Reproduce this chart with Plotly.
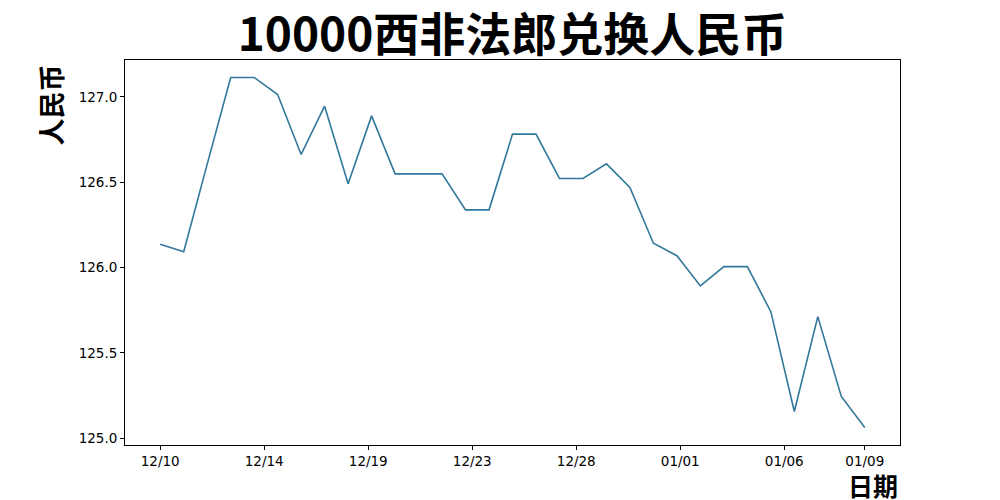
import plotly.graph_objects as go

dates = ["12/10", "12/11", "12/12", "12/13", "12/14", "12/15", "12/16", "12/17",
         "12/18", "12/19", "12/20", "12/21", "12/22", "12/23", "12/24", "12/25",
         "12/26", "12/27", "12/28", "12/29", "12/30", "12/31", "01/01", "01/02",
         "01/03", "01/04", "01/05", "01/06", "01/07", "01/08", "01/09"]
values = [126.136, 126.093, 126.606, 127.114, 127.114, 127.014, 126.663, 126.946,
          126.491, 126.889, 126.549, 126.549, 126.549, 126.338, 126.338, 126.782,
          126.782, 126.522, 126.522, 126.608, 126.470, 126.142, 126.069, 125.892,
          126.005, 126.005, 125.741, 125.156, 125.712, 125.244, 125.062]

n = len(dates)
x_idx = list(range(n))
# tick positions spread evenly, labels from nearest date
tick_pos = [i * n / 7 for i in range(7)] + [n - 1]
tick_txt = [dates[min(n - 1, round(p))] for p in tick_pos]

fig = go.Figure()
fig.add_trace(go.Scatter(x=x_idx, y=values, mode="lines",
                         line=dict(color="#31789a", width=1.6),
                         hoverinfo="skip", showlegend=False))

span_y = max(values) - min(values)
fig.update_layout(
    width=1000, height=500,
    margin=dict(l=125, r=100, t=60, b=55),
    paper_bgcolor="white", plot_bgcolor="white",
    font=dict(family="DejaVu Sans", size=13, color="black"),
    title=dict(text="<b>10000西非法郎兑换人民币</b>", x=0.5, xref="paper",
               y=1 - 35 / 500, yanchor="middle", xanchor="center",
               font=dict(family="Noto Sans CJK SC", size=46, color="black")),
    xaxis=dict(range=[-1.5, n - 1 + 1.5], tickvals=tick_pos, ticktext=tick_txt,
               showgrid=False, zeroline=False, showline=True, linecolor="black",
               linewidth=1, mirror=True, ticks="outside", ticklen=4,
               tickcolor="black", tickfont=dict(size=13.5), automargin=False),
    yaxis=dict(range=[min(values) - 0.05 * span_y, max(values) + 0.05 * span_y],
               tickvals=[125.0, 125.5, 126.0, 126.5, 127.0],
               ticktext=["125.0", "125.5", "126.0", "126.5", "127.0"],
               showgrid=False, zeroline=False, showline=True, linecolor="black",
               linewidth=1, mirror=True, ticks="outside", ticklen=4,
               tickcolor="black", tickfont=dict(size=13.5), automargin=False),
    annotations=[
        dict(text="<b>人民币</b>", xref="paper", yref="paper",
             x=(50 - 125) / 775, y=1 - 3 / 385, xanchor="center", yanchor="top",
             textangle=-90, showarrow=False,
             font=dict(family="Noto Sans CJK SC", size=27, color="black")),
        dict(text="<b>日期</b>", xref="paper", yref="paper",
             x=1, y=(445 - 485) / 385, xanchor="right", yanchor="middle",
             showarrow=False,
             font=dict(family="Noto Sans CJK SC", size=25, color="black")),
    ],
)

fig.write_html("out.html", config={"displayModeBar": False},
               post_script="document.body.style.margin='0px';document.body.style.padding='0px';")
